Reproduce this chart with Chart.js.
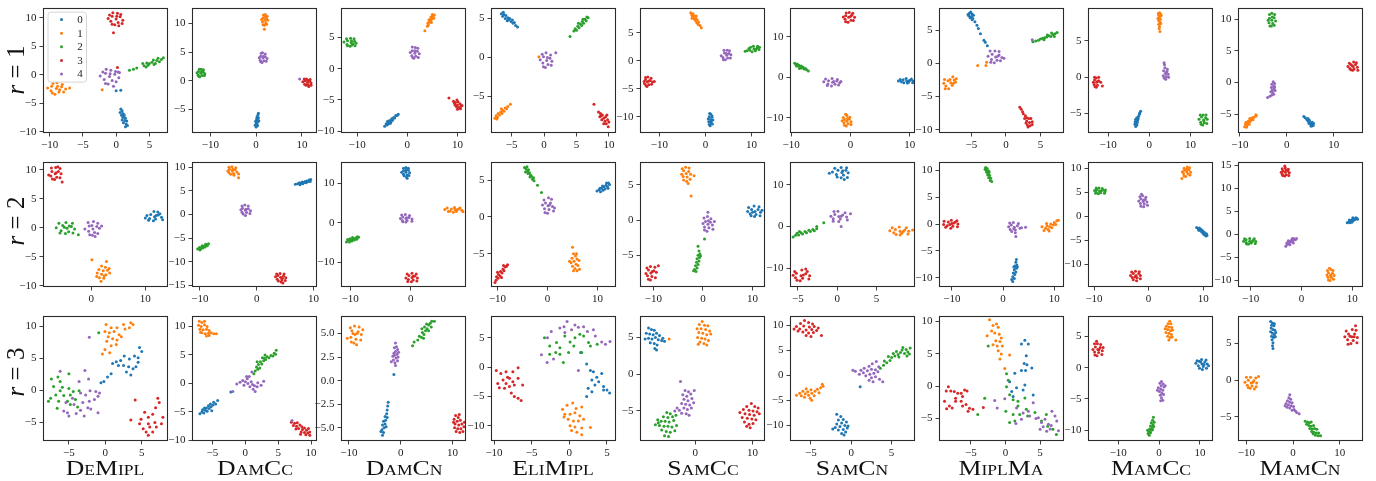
<!DOCTYPE html>
<html><head><meta charset="utf-8">
<script src="https://cdn.jsdelivr.net/npm/chart.js@4.4.1/dist/chart.umd.min.js"></script>
<style>
html,body{margin:0;padding:0;background:#fff;}
body{width:1376px;height:481px;position:relative;overflow:hidden;font-family:"Liberation Serif",serif;}
canvas{position:absolute;}
.title{position:absolute;width:220px;text-align:center;font-family:"Liberation Serif",serif;font-size:22px;line-height:22px;font-variant:small-caps;color:#111;transform:scaleX(1.17);white-space:nowrap;}
.rowlab{position:absolute;font-family:"Liberation Serif",serif;font-size:25px;line-height:25px;color:#111;white-space:nowrap;transform:translate(-50%,-50%) rotate(-90deg);}
</style></head><body>
<script>
const COLORS=['#1f77b4','#ff7f0e','#2ca02c','#d62728','#9467bd'];
const classLabels=['0','1','2','3','4'];
const methods=['DeMipl','DamCc','DamCn','EliMipl','SamCc','SamCn','MiplMa','MamCc','MamCn'];
const rowNames=['1','2','3'];

// ---- row r = 1 ----
const demipl_r1=[
[0.7,-6.0,0.9,-6.3,0.6,-6.6,1.0,-6.8,0.8,-7.1,1.2,-7.2,1.0,-7.5,1.4,-7.6,0.9,-7.9,1.3,-8.0,1.6,-8.1,1.1,-8.4,1.5,-8.6,1.7,-8.9,1.4,-9.1,1.2,-7.0,0.0,-2.8,0.7,-2.7],
[-9.0,-2.4,-8.2,-2.1,-9.7,-2.0,-8.6,-3.0,-9.8,-2.8,-7.6,-2.5,-10.3,-2.3,-8.9,-1.4,-9.2,-3.4,-8.1,-1.7,-9.6,-3.2,-7.9,-3.0,-9.5,-1.5,-8.8,-2.0,-7.0,-2.3,-8.5,-2.6,-2.1,-2.6],
[2.0,0.8,2.6,1.0,3.1,1.2,4.0,2.0,4.2,1.6,4.6,2.1,4.5,1.4,5.0,2.0,5.4,2.2,5.6,2.6,5.9,2.0,6.1,2.5,6.3,2.9,6.5,2.3,6.8,2.7,7.1,3.0,5.7,1.8,4.8,1.7],
[0.0,9.8,0.6,10.2,-0.6,10.3,0.3,9.2,-0.8,9.4,1.0,9.6,-1.2,9.9,0.2,10.8,-0.2,8.8,0.7,10.6,-0.6,8.9,0.9,9.0,-0.5,10.9,0.1,10.3,0.4,8.6,-1.0,10.5,-0.4,7.4,0.2,1.3],
[-1.0,-0.3,-0.2,0.1,-1.6,0.3,-0.6,-1.0,-1.8,-0.8,0.4,-0.5,-2.4,-0.2,-0.8,0.8,-1.2,-1.6,-0.1,0.6,-1.6,-1.5,0.0,-1.2,-1.5,1.0,-0.9,0.2,-2.0,0.5,0.5,0.4,-0.4,-2.0,0.3,0.5]];
const damcc_r1=[
[0.5,-5.7,0.4,-6.0,0.2,-6.3,0.5,-6.5,0.1,-6.7,0.3,-6.9,-0.1,-7.1,0.4,-7.2,0.0,-7.4,0.2,-7.6,-0.2,-7.8,0.3,-7.9,0.0,-8.1,0.6,-7.0],
[1.9,10.6,2.3,10.9,1.5,11.0,2.1,10.1,1.4,10.3,2.5,10.6,1.2,10.7,2.0,11.6,1.8,9.7,2.4,11.3,1.5,9.8,2.3,9.9,1.6,11.5,1.9,11.1,1.8,9.0],
[-12.1,1.3,-11.5,1.5,-12.6,1.6,-11.8,0.9,-12.7,1.0,-11.2,1.2,-12.9,1.4,-12.0,2.0,-12.3,0.7,-11.5,1.9,-12.5,0.8,-11.3,0.9,-12.4,2.0,-11.9,1.6],
[11.2,-0.3,11.7,-0.1,10.7,0.0,11.4,-0.7,10.6,-0.6,12.0,-0.4,10.2,-0.2,11.0,0.3,11.5,-1.0,11.8,0.2,10.9,-0.8,12.0,-0.8,10.5,0.3,11.3,0.1],
[1.5,4.0,2.0,4.2,1.0,4.3,1.7,3.5,0.9,3.6,2.4,3.9,0.7,4.0,1.4,4.9,1.3,3.2,2.0,4.7,1.0,3.3,2.2,3.4,1.1,4.8,1.6,4.3,9.5,0.3]];
const damcn_r1=[
[-4.5,-9.2,-4.2,-8.8,-4.0,-9.0,-3.8,-8.6,-3.6,-8.8,-3.5,-8.3,-3.2,-8.4,-3.1,-8.0,-2.9,-8.2,-2.7,-7.8,-2.5,-7.9,-2.3,-7.5,-2.0,-7.5,-1.8,-7.3,-3.9,-8.4,-3.3,-8.7],
[3.5,6.1,4.0,6.8,4.2,7.0,4.4,7.5,4.1,7.3,4.7,7.7,4.5,7.9,4.9,8.0,4.7,8.3,5.1,8.4,5.3,8.1,5.0,8.7,5.4,8.6,4.3,7.8,4.8,7.4],
[-11.2,4.2,-10.5,4.4,-11.9,4.5,-11.0,3.8,-12.0,3.9,-10.2,4.1,-12.6,4.3,-11.3,4.9,-11.4,3.6,-10.6,4.8,-11.9,3.7,-10.4,3.7,-12.1,4.8,-11.1,4.5,-10.8,4.0],
[8.3,-4.7,9.2,-5.2,9.6,-5.4,10.1,-5.3,9.5,-5.8,10.0,-5.8,10.5,-5.6,9.8,-6.1,10.3,-6.2,10.7,-6.0,10.0,-6.5,10.6,-6.4,9.4,-5.5,10.9,-5.9,9.9,-5.0],
[1.5,2.5,2.0,2.8,1.0,2.9,1.7,2.0,0.9,2.1,2.4,2.4,0.6,2.6,1.6,3.4,1.3,1.7,2.1,3.3,1.1,1.8,2.2,1.8,1.0,3.5,1.5,2.9]];
const elimipl_r1=[
[-6.6,5.6,-6.4,5.3,-6.2,5.5,-6.0,5.0,-5.9,5.4,-5.6,5.1,-5.5,4.8,-5.3,5.0,-5.1,4.6,-4.9,4.8,-4.8,4.4,-4.6,4.5,-4.4,4.1,-4.1,3.9,-5.7,4.7,-6.3,5.8],
[-7.6,-7.8,-7.4,-7.5,-7.2,-7.7,-7.1,-7.2,-6.9,-7.4,-6.7,-7.0,-6.5,-7.2,-6.4,-6.8,-6.2,-6.9,-6.0,-6.5,-5.8,-6.6,-5.6,-6.3,-5.2,-6.0,-7.3,-7.9,-6.6,-6.6,-0.8,0.1],
[4.0,2.7,4.6,3.4,4.8,3.7,5.0,3.5,5.2,4.0,5.4,3.8,5.6,4.3,5.8,4.1,5.9,4.6,6.1,4.4,6.3,4.9,6.5,4.7,6.6,5.2,6.8,5.1,5.3,4.4,6.0,4.9],
[7.7,-6.0,8.4,-7.0,8.7,-7.2,8.6,-7.6,9.0,-7.4,9.2,-7.8,8.9,-8.0,9.5,-7.6,9.4,-8.2,9.8,-8.0,9.6,-8.5,10.0,-8.3,9.2,-8.5,9.9,-8.9,8.8,-7.5,9.7,-7.4],
[0.4,-0.4,0.9,-0.1,-0.1,0.1,0.6,-0.9,-0.2,-0.7,1.2,-0.5,-0.6,-0.3,0.3,0.6,0.2,-1.3,1.0,0.3,-0.1,-1.2,1.1,-1.0,-0.3,0.4,0.5,0.0,1.8,0.6]];
const samcc_r1=[
[1.1,-10.5,1.4,-10.1,0.8,-10.0,1.2,-11.1,0.7,-10.9,1.6,-10.6,0.6,-10.4,1.1,-9.5,1.0,-11.6,1.4,-9.8,0.8,-11.4,1.5,-11.3,0.9,-9.4,1.2,-10.8],
[-3.2,8.6,-3.0,8.2,-2.7,8.4,-2.8,7.9,-2.4,8.0,-2.5,7.5,-2.1,7.6,-2.2,7.2,-1.8,7.3,-1.9,6.8,-1.5,6.9,-1.6,6.5,-1.2,6.3,-0.9,5.9,-2.9,7.6,-2.0,8.0],
[10.5,2.1,11.2,2.3,9.8,2.4,10.8,1.8,9.6,1.9,11.6,2.0,9.0,1.8,10.4,2.6,10.1,1.6,11.3,2.6,9.4,2.2,11.7,2.4,8.6,1.7,10.9,2.0],
[-12.6,-3.8,-12.0,-3.5,-13.0,-3.4,-12.3,-4.3,-13.2,-4.1,-11.5,-3.8,-13.3,-3.7,-12.5,-2.9,-12.7,-4.6,-11.8,-3.1,-12.9,-4.4,-11.7,-4.2,-13.0,-3.0,-12.3,-3.6,-11.1,-3.7],
[4.6,1.0,5.1,1.3,4.1,1.4,4.8,0.5,3.8,0.6,5.5,1.1,3.4,0.9,4.7,1.9,4.3,0.2,5.2,1.8,3.9,0.2,5.4,0.5,4.0,1.9,4.5,1.3]];
const samcn_r1=[
[9.5,-0.9,10.1,-0.7,8.9,-0.6,9.8,-1.2,8.6,-1.1,10.6,-0.9,8.1,-0.9,9.4,-0.3,9.6,-1.4,10.3,-0.4,9.0,-1.3,10.5,-1.3,8.4,-0.5,9.9,-0.8],
[-0.6,-10.8,-0.2,-10.3,-1.0,-10.4,-0.4,-11.4,-1.1,-11.2,0.1,-10.9,-1.4,-10.7,-0.6,-9.4,-0.7,-12.0,-0.1,-9.8,-1.0,-11.8,0.1,-11.6,-1.2,-9.9,-0.5,-10.1,-0.8,-9.1],
[-9.4,3.5,-9.2,3.1,-9.0,3.3,-8.9,2.8,-8.7,3.0,-8.5,2.6,-8.3,2.8,-8.2,2.3,-8.0,2.5,-7.8,2.1,-7.6,2.2,-7.4,1.9,-7.1,1.6,-8.6,2.2,-9.1,2.8],
[-0.3,14.8,0.2,15.3,-0.8,15.2,0.1,14.1,-0.9,14.3,0.7,14.8,-1.2,14.9,-0.2,16.0,-0.4,13.6,0.4,15.8,-0.8,13.7,0.5,14.0,-0.7,15.9,0.0,15.0],
[-3.0,-1.2,-2.3,-0.9,-3.7,-0.8,-2.6,-1.7,-3.8,-1.6,-1.8,-1.3,-4.5,-1.1,-3.1,-0.3,-3.2,-2.1,-2.2,-0.5,-3.9,-2.0,-2.0,-1.9,-4.2,-0.4,-2.8,-1.0,-1.6,-1.0]];
const miplma_r1=[
[-5.3,7.6,-5.1,7.8,-4.9,7.5,-5.4,7.2,-5.0,7.1,-4.7,7.3,-5.2,6.9,-4.8,6.8,-5.5,7.4,-4.9,6.6,-4.5,6.3,-4.2,5.8,-4.0,5.3,-3.7,4.5,-3.2,3.5,-3.0,3.2,-2.7,2.7],
[-8.0,-2.9,-7.5,-2.5,-8.4,-2.6,-7.8,-3.3,-8.7,-3.4,-7.2,-2.3,-9.0,-3.0,-7.7,-2.0,-8.3,-3.8,-7.3,-2.8,-8.8,-3.8,-7.6,-3.0,-8.9,-2.4,-8.1,-2.4,-4.1,-0.3,-2.8,0.2,-2.9,-0.3],
[3.9,3.3,4.3,3.4,4.7,3.5,5.0,3.7,5.3,3.8,5.6,3.9,5.9,4.0,6.2,4.2,6.5,4.1,6.8,4.4,7.1,4.5,7.4,4.7,6.6,4.6,6.0,4.3,7.0,4.1,5.5,3.6],
[2.0,-6.6,2.2,-6.9,2.4,-7.3,2.5,-7.6,2.8,-7.9,2.7,-8.3,3.0,-8.2,3.3,-8.3,3.6,-8.3,3.0,-8.7,3.4,-8.9,3.8,-8.8,3.1,-9.3,3.5,-9.4,3.8,-9.2,2.9,-9.0,3.2,-9.6],
[-1.5,1.0,-1.0,1.3,-2.0,1.4,-1.3,0.5,-2.1,0.6,-0.6,0.9,-2.6,1.1,-1.6,1.9,-1.7,0.1,-1.0,1.8,-2.2,0.2,-0.8,0.4,-2.3,1.9,-1.2,1.1,-0.3,0.8,3.8,3.6]];
const mamcc_r1=[
[-2.1,-4.7,-2.3,-4.9,-2.4,-5.1,-2.6,-5.4,-3.0,-5.6,-3.3,-5.8,-2.8,-5.9,-3.1,-6.0,-3.4,-6.1,-2.9,-6.2,-3.2,-6.4,-3.5,-6.5,-3.0,-6.6,-3.3,-6.8,-2.7,-5.7,-3.4,-6.3],
[2.2,8.8,2.5,8.9,2.8,8.7,2.3,8.5,2.6,8.4,2.9,8.5,2.4,8.2,2.7,8.0,2.3,7.8,2.6,7.6,2.3,7.3,2.5,7.0,2.4,6.7,2.6,6.3,2.8,7.4,2.1,8.1],
[13.2,-5.9,13.7,-5.6,12.7,-5.5,13.4,-6.3,12.5,-6.2,14.1,-5.8,12.1,-5.8,13.1,-5.2,13.0,-6.6,13.8,-5.2,12.6,-6.5,14.0,-6.4,12.4,-5.2,13.3,-6.0],
[-12.8,-0.7,-12.3,-0.5,-13.3,-0.4,-12.6,-1.1,-13.4,-1.0,-11.8,-0.7,-13.6,-0.7,-12.9,-0.1,-12.9,-1.4,-12.3,0.0,-13.2,-1.3,-11.4,-1.2,-13.3,0.0,-12.6,-0.6],
[3.9,0.5,4.3,0.8,3.5,0.9,4.1,0.1,3.4,0.2,4.6,0.4,3.8,1.3,3.6,2.0,4.0,-0.3,4.4,1.1,3.6,-0.1,4.7,0.0,3.7,1.7,4.1,0.6]];
const mamcn_r1=[
[3.6,-5.4,3.9,-5.6,4.2,-5.8,4.4,-6.0,4.6,-6.2,4.8,-6.0,5.0,-6.4,4.7,-6.5,5.2,-6.6,5.4,-6.3,5.6,-6.8,5.3,-6.9,5.7,-6.5,4.5,-5.7,5.1,-6.9],
[-9.0,-7.0,-8.8,-6.6,-8.5,-6.8,-8.7,-6.3,-8.3,-6.4,-8.0,-6.6,-8.2,-6.1,-7.8,-6.2,-7.6,-5.9,-7.9,-5.7,-7.4,-5.6,-7.0,-5.5,-6.5,-5.3,-6.6,-5.1,-8.6,-7.1,-7.2,-5.9],
[-3.2,9.8,-2.7,10.2,-3.7,10.1,-3.0,9.3,-3.8,9.4,-2.4,9.7,-4.0,9.8,-3.2,10.9,-3.3,8.9,-2.6,10.7,-3.6,8.9,-2.7,9.0,-3.7,10.7,-3.1,10.3],
[14.1,2.5,14.6,2.8,13.6,2.8,14.3,2.1,13.4,2.2,15.0,2.4,13.0,2.5,14.2,3.2,14.0,1.9,14.8,3.1,13.6,2.0,15.1,1.9,13.3,3.0,13.9,2.6],
[-2.9,0.1,-2.6,-0.2,-3.2,-0.3,-2.8,-0.6,-3.3,-0.8,-2.7,-1.0,-3.1,-1.2,-2.5,-1.3,-3.0,-1.6,-3.4,-1.5,-2.8,-1.9,-3.2,-2.0,-3.6,-2.2,-4.1,-2.4,-2.6,-0.7]];

// ---- row r = 2 ----
const demipl_r2=[
[11.7,1.9,12.4,2.2,11.0,2.3,11.9,1.5,10.8,1.6,13.0,1.8,10.0,1.7,11.6,2.8,11.5,1.2,12.3,2.7,10.6,1.3,13.2,1.4,10.3,2.1,12.0,2.1,12.7,2.4],
[0.1,-5.5,2.8,-5.8,1.9,-6.6,2.6,-6.8,1.4,-7.2,2.2,-7.4,3.0,-7.3,1.1,-7.8,1.9,-8.0,2.7,-8.1,3.4,-7.8,1.5,-8.6,2.3,-8.7,1.0,-8.4,1.8,-9.2,3.3,-7.0,2.4,-8.3],
[-4.5,-0.1,-3.7,0.2,-5.3,0.4,-4.2,-0.7,-5.6,-0.5,-3.1,-0.2,-6.5,0.0,-4.7,0.9,-4.8,-1.0,-3.5,0.8,-5.8,-0.9,-3.4,-0.9,-6.0,0.8,-4.1,0.3,-2.4,-1.2,-5.0,0.1],
[-6.7,9.3,-6.1,9.7,-7.3,9.7,-6.4,8.7,-7.5,8.9,-5.6,9.3,-7.9,9.1,-6.6,10.4,-6.8,8.3,-5.8,10.2,-7.2,8.4,-5.8,8.6,-7.4,10.3,-6.5,9.5,-5.4,7.9,-6.2,10.5],
[0.3,-0.2,1.0,0.2,-0.4,0.3,0.6,-0.8,-0.5,-0.6,1.5,-0.1,-1.2,-0.2,0.4,1.1,0.2,-1.3,1.2,0.8,-0.3,-1.2,1.2,-1.0,-0.6,0.9,0.1,0.4,1.9,0.3,0.7,-1.5]];
const damcc_r2=[
[6.8,6.4,7.2,6.5,7.5,6.7,7.8,6.6,8.0,6.9,8.3,6.8,8.5,7.0,8.8,7.1,9.0,7.0,9.2,7.3,9.5,7.4,8.1,6.5,8.7,6.7,7.6,6.3,9.4,7.0],
[-4.3,9.2,-3.8,9.5,-4.8,9.6,-4.1,8.7,-4.9,8.9,-3.5,9.0,-5.1,9.2,-4.4,10.1,-4.0,8.3,-3.7,9.9,-4.6,8.5,-3.2,8.6,-4.9,10.0,-4.2,9.6,-3.2,7.8],
[-10.4,-7.3,-10.1,-7.0,-9.9,-7.3,-9.7,-6.9,-9.5,-7.1,-9.3,-6.7,-9.1,-6.9,-8.9,-6.4,-8.7,-6.6,-8.5,-6.2,-10.0,-7.5,-9.6,-6.6,-9.0,-6.3,-9.8,-7.1],
[4.2,-13.3,4.7,-13.0,3.7,-12.9,4.4,-13.8,3.6,-13.7,5.1,-13.4,3.3,-13.2,4.1,-12.5,4.3,-14.3,4.8,-12.6,3.8,-14.1,5.0,-14.0,3.5,-12.6,4.5,-13.5,4.6,-14.5],
[-2.0,0.9,-1.5,1.2,-2.5,1.3,-1.8,0.4,-2.6,0.5,-1.1,0.8,-2.8,1.0,-2.1,2.0,-2.0,-0.2,-1.5,1.8,-2.4,0.1,-1.2,0.2,-2.6,1.8,-1.9,1.1]];
const damcn_r2=[
[-0.8,12.8,-0.4,13.3,-1.2,13.2,-0.6,12.1,-1.2,12.3,-0.2,12.7,-1.5,12.8,-0.8,14.0,-0.7,11.6,-0.4,13.8,-1.1,11.9,-0.3,12.0,-1.2,13.8,-0.8,13.4,-0.6,11.3],
[7.3,3.3,7.9,3.5,6.7,3.5,7.5,2.9,6.5,3.0,8.4,3.2,5.6,3.4,7.2,3.9,7.0,2.7,8.1,3.8,6.2,2.9,8.6,2.8,6.0,3.8,7.6,3.3],
[-10.6,-4.8,-10.3,-4.4,-10.1,-4.8,-9.9,-4.3,-9.7,-4.6,-9.5,-4.0,-9.3,-4.3,-9.1,-3.8,-8.9,-4.1,-8.6,-3.6,-10.4,-4.2,-9.6,-3.7,-8.8,-3.5,-10.0,-4.0],
[0.2,-13.8,0.7,-13.4,-0.3,-13.3,0.4,-14.4,-0.4,-14.3,1.1,-13.9,-0.8,-13.9,0.2,-12.7,0.1,-14.9,0.9,-12.9,-0.5,-14.8,1.0,-14.7,-0.6,-12.9,0.4,-13.5],
[-0.8,1.1,-0.3,1.4,-1.3,1.5,-0.6,0.6,-1.4,0.6,0.2,1.0,-1.7,1.1,-0.9,2.1,-0.8,0.2,-0.2,1.9,-1.3,0.3,0.2,0.4,-1.5,2.0,-0.7,1.3]];
const elimipl_r2=[
[9.9,3.5,10.3,3.7,10.6,3.4,10.8,3.9,11.1,3.6,11.3,4.1,11.5,3.8,11.7,4.3,12.0,4.1,12.2,4.6,12.4,4.4,11.0,4.2,11.8,4.6,10.5,3.9,12.1,3.9],
[5.0,-4.1,5.2,-5.0,5.6,-5.3,4.9,-5.6,5.9,-5.7,5.3,-6.0,6.3,-5.9,4.7,-6.2,5.7,-6.4,6.1,-6.6,5.0,-6.7,5.5,-7.0,6.4,-7.1,5.2,-7.3,5.9,-7.3,4.4,-6.0,5.8,-5.0],
[-4.6,6.7,-4.3,6.5,-4.1,6.8,-4.0,6.2,-3.8,6.4,-3.9,5.9,-3.6,6.0,-3.4,5.7,-3.5,5.4,-3.2,5.5,-3.0,5.1,-2.8,5.3,-2.7,4.9,-4.4,6.1,-2.0,4.3,-1.2,3.3],
[-10.3,-8.6,-10.2,-8.1,-9.9,-8.3,-9.8,-7.8,-9.5,-8.0,-9.4,-7.4,-9.1,-7.6,-8.9,-7.1,-8.7,-7.3,-8.5,-6.8,-8.2,-6.7,-8.0,-6.5,-10.0,-7.5,-9.2,-8.2,-8.8,-6.6,-10.5,-8.9],
[0.1,1.5,0.6,1.9,-0.4,1.9,0.3,1.0,-0.6,1.1,1.0,1.4,-1.0,1.6,0.2,2.6,0.0,0.5,0.8,2.4,-0.5,0.6,1.2,0.8,-0.7,2.3,0.4,1.6,1.4,1.2]];
const samcc_r2=[
[10.5,1.2,11.1,1.5,9.8,1.5,10.7,0.8,9.5,0.9,11.6,1.1,9.0,1.2,10.3,2.0,10.4,0.5,11.3,1.9,9.7,0.6,11.5,0.6,9.2,1.8,10.0,1.1,11.9,1.4],
[-3.4,6.6,-2.9,6.9,-3.9,7.0,-3.2,6.1,-4.0,6.2,-2.5,6.5,-4.3,6.5,-3.5,7.5,-3.3,5.5,-2.8,7.4,-3.9,5.7,-2.6,5.8,-4.2,7.3,-3.0,5.2,-1.8,6.3,-2.4,3.4],
[-1.0,-3.7,-0.8,-4.4,-0.6,-4.8,-1.0,-5.0,-0.7,-5.3,-1.2,-5.5,-0.8,-5.8,-1.3,-6.0,-1.0,-6.3,-1.5,-6.5,-1.2,-6.8,-1.7,-7.0,-1.4,-7.3,-1.9,-7.2,0.3,-2.7,-0.5,-5.1],
[-10.5,-7.5,-9.9,-7.2,-11.0,-7.1,-10.3,-8.0,-11.2,-7.9,-9.4,-7.4,-11.5,-7.6,-10.6,-6.6,-10.6,-8.5,-9.7,-6.7,-11.0,-8.4,-9.6,-8.2,-11.3,-6.8,-10.2,-7.3,-9.0,-6.5],
[1.0,-0.6,1.5,-0.3,0.5,-0.2,1.2,-1.1,0.3,-1.0,1.9,-0.7,0.0,-0.5,0.9,0.5,0.8,-1.6,1.6,0.2,0.3,-1.4,2.0,-1.3,0.2,0.3,1.1,-0.1,1.0,1.1,2.3,-0.2]];
const samcn_r2=[
[0.6,13.0,1.1,13.5,0.1,13.5,0.8,12.4,-0.1,12.5,1.4,12.9,-0.6,13.1,0.5,14.2,0.5,11.7,1.2,14.1,0.0,11.9,1.3,11.8,-0.3,14.0,0.7,13.4,-1.0,12.8,0.9,11.3],
[8.0,-1.1,8.6,-0.8,7.4,-0.7,8.2,-1.6,7.2,-1.5,9.1,-1.1,6.7,-1.0,7.9,-0.1,8.0,-2.0,8.8,-0.3,7.5,-1.9,9.0,-1.8,7.0,-0.3,8.4,-1.2,9.6,-0.8],
[-5.6,-2.5,-5.3,-2.1,-5.1,-1.6,-4.9,-2.0,-4.6,-1.5,-4.4,-1.8,-4.1,-1.2,-3.9,-1.5,-3.6,-0.9,-3.4,-1.2,-3.1,-0.7,-2.9,-1.0,-2.6,-0.5,-4.8,-1.2,-1.7,0.9,-2.6,0.0],
[-4.6,-11.8,-4.0,-11.3,-5.2,-11.2,-4.4,-12.4,-5.3,-12.3,-3.5,-11.8,-5.6,-11.7,-4.5,-10.4,-4.7,-13.0,-3.8,-10.8,-5.1,-12.9,-3.6,-12.6,-5.4,-10.8,-4.3,-11.6,-4.0,-10.2],
[0.2,2.4,0.7,2.8,-0.3,2.9,0.4,1.8,-0.5,1.9,1.2,2.3,-0.8,2.5,0.1,3.7,0.2,1.2,1.0,3.3,-0.5,1.3,1.3,1.6,-0.4,3.6,0.5,2.5,1.7,3.1,0.5,0.0]];
const miplma_r2=[
[2.6,-6.6,2.5,-7.1,2.7,-7.6,2.3,-7.8,2.6,-8.2,2.2,-8.5,2.5,-8.9,2.0,-9.1,2.3,-9.4,1.9,-9.8,2.2,-10.1,1.7,-10.3,1.9,-10.7,2.8,-8.0,2.1,-8.0],
[7.6,-0.5,8.0,-1.2,8.3,-0.8,8.6,-0.3,8.8,-1.0,9.1,-0.5,9.3,0.0,9.5,-0.7,9.8,-0.2,10.0,0.3,10.3,-0.1,10.5,0.6,10.8,0.7,9.0,-1.3,8.5,0.1],
[-3.4,10.5,-3.1,10.3,-3.3,10.0,-2.9,9.9,-3.2,9.6,-2.8,9.4,-3.0,9.1,-2.6,9.0,-2.8,8.6,-2.4,8.5,-2.5,8.1,-2.2,7.9,-3.5,10.2,-2.7,9.7],
[-10.0,0.1,-9.3,0.4,-10.7,0.4,-9.8,-0.4,-10.9,-0.3,-8.8,0.0,-11.6,-0.1,-10.1,0.7,-10.2,-0.8,-9.0,0.6,-11.2,-0.6,-8.9,-0.5,-11.5,0.5,-9.6,0.2,-10.4,-0.1],
[2.2,-0.6,2.8,-0.3,1.6,-0.2,2.4,-1.1,1.4,-1.0,3.3,-0.8,1.1,-0.5,2.0,0.3,2.4,-1.6,3.0,0.1,1.7,-1.4,3.6,-0.7,1.3,0.2,4.4,-0.6,2.5,-2.3,2.1,-0.9]];
const mamcc_r2=[
[8.8,-2.3,9.1,-2.6,9.3,-2.4,9.4,-2.9,9.6,-2.7,9.7,-3.2,9.9,-3.0,10.0,-3.5,10.2,-3.3,10.3,-3.8,10.6,-3.6,10.7,-4.0,9.2,-2.9,10.1,-3.7,10.5,-4.1],
[7.0,9.3,7.4,9.7,6.6,9.6,7.2,8.8,6.4,8.9,7.7,9.2,6.2,9.3,7.1,10.3,6.8,8.3,7.5,10.1,6.5,8.4,7.6,8.6,6.5,10.0,6.1,7.9,7.0,9.8],
[-9.0,5.3,-8.4,5.5,-9.5,5.6,-8.8,4.9,-9.6,5.0,-8.0,5.1,-9.9,5.4,-9.1,5.9,-9.2,4.7,-8.5,5.8,-9.7,4.8,-8.1,4.8,-9.6,5.9,-8.7,5.3,-7.9,5.5],
[-2.3,-12.3,-1.8,-11.9,-2.8,-11.9,-2.1,-12.8,-3.0,-12.7,-1.5,-12.3,-3.3,-12.3,-2.4,-11.4,-2.2,-13.4,-1.7,-11.5,-2.8,-13.2,-1.5,-13.0,-3.1,-11.6,-2.5,-12.6],
[-1.0,3.1,-0.6,3.5,-1.4,3.6,-0.8,2.6,-1.5,2.7,-0.3,3.0,-1.8,3.2,-1.1,4.3,-0.9,2.0,-0.5,4.0,-1.4,2.1,-0.2,2.3,-1.6,4.1,-0.9,3.4,-1.3,4.6]];
const mamcn_r2=[
[9.0,2.5,9.3,2.7,9.5,2.5,9.6,3.0,9.8,2.8,10.0,3.2,10.2,3.0,10.3,3.4,10.5,3.2,10.7,3.6,10.9,3.5,9.4,3.1,10.1,3.6,9.9,2.6,11.0,3.3],
[5.7,-8.9,6.1,-8.5,5.3,-8.4,5.9,-9.5,5.2,-9.4,6.4,-9.0,5.0,-8.9,5.8,-7.7,5.6,-10.1,6.2,-7.9,5.3,-10.0,6.3,-9.8,5.1,-7.9,5.8,-9.2,5.5,-7.4],
[-10.2,-1.5,-9.5,-1.3,-10.9,-1.2,-9.9,-1.9,-10.9,-1.8,-9.0,-1.6,-11.4,-1.5,-10.2,-0.9,-10.4,-2.1,-9.3,-1.0,-10.8,-2.1,-9.1,-2.0,-11.2,-1.0,-9.7,-1.6],
[-3.2,13.5,-2.7,13.8,-3.7,13.8,-3.0,13.0,-3.8,13.1,-2.4,13.4,-4.0,13.5,-3.2,14.5,-3.3,12.7,-2.6,14.2,-3.7,12.8,-2.5,12.8,-3.8,14.3,-3.1,14.0,-3.3,14.9],
[-3.1,-2.6,-2.8,-2.2,-2.9,-1.9,-2.5,-2.0,-2.4,-1.6,-2.1,-1.7,-2.0,-1.3,-1.7,-1.4,-1.5,-1.0,-1.2,-1.2,-1.0,-0.9,-2.3,-2.3,-1.6,-1.9,-1.8,-0.9,-2.6,-1.4]];

// ---- row r = 3 ----
const demipl_r3=[
[4.7,6.7,5.0,6.1,4.5,5.1,4.0,5.4,3.3,4.9,2.6,5.4,2.1,4.7,1.5,4.5,1.0,4.2,1.8,3.9,2.5,3.9,3.2,3.7,3.8,3.4,4.2,3.7,4.5,4.4,2.9,2.9,3.5,2.4,0.8,2.6,0.3,2.1,-0.2,1.4,-0.6,1.2],
[0.1,10.3,0.8,9.8,1.6,9.8,2.5,10.3,3.5,10.6,3.8,10.3,3.3,9.8,2.7,9.6,-0.05,9.2,0.55,9.0,1.2,9.2,1.9,8.7,0.4,8.4,1.0,8.1,1.6,7.9,2.2,8.4,0.2,7.7,0.8,7.0,-0.05,6.4,0.6,5.9,1.5,7.2,-0.4,5.7],
[-7.4,1.8,-6.5,2.1,-6.2,1.4,-5.0,2.6,-7.1,0.6,-5.9,0.5,-5.0,0.3,-4.4,-0.15,-3.6,-0.05,-6.8,-0.7,-5.7,-0.8,-4.8,-0.7,-7.5,-1.2,-6.4,-1.7,-5.2,-1.7,-4.1,-1.4,-6.6,-2.8,-7.8,-1.7,-3.8,-2.6,-4.8,-2.2,-6.2,-0.05,-0.9,9.0],
[4.1,-1.5,7.2,-1.2,7.4,-1.9,6.9,-2.7,5.4,-3.4,6.5,-3.7,7.9,-4.2,5.9,-4.2,4.9,-4.5,3.5,-4.6,4.7,-5.2,5.9,-5.2,6.8,-5.0,7.7,-5.2,6.1,-5.7,5.2,-6.0,7.0,-5.7,6.5,-6.5,5.6,-6.5,5.9,-7.0],
[-6.2,3.0,-3.6,1.4,-2.8,3.1,-2.3,1.8,-2.1,-0.05,-1.3,-0.15,-0.8,-0.4,-1.0,-0.9,-1.5,-1.4,-2.7,-0.7,-3.4,-0.4,-4.5,-1.2,-5.4,-1.9,-4.3,-2.2,-3.1,-1.9,-2.2,-1.7,-2.4,-2.7,-3.4,-3.1,-4.0,-3.6,-2.9,-4.0,-5.0,-4.0,-5.7,-3.2,-2.0,-2.9,-1.0,-3.5,-2.2,8.3,-5.2,-3.5]];
const damcc_r3=[
[-6.9,-5.3,-6.6,-5.0,-6.3,-5.2,-6.5,-4.6,-6.1,-4.7,-5.8,-4.9,-5.9,-4.3,-5.5,-4.4,-5.6,-3.9,-5.2,-4.1,-5.3,-3.6,-4.9,-3.8,-4.8,-3.3,-4.5,-3.6,-4.2,-3.0,-5.1,-4.8,-6.2,-4.3,-2.2,-1.5],
[-7.0,10.9,-6.6,10.7,-6.2,10.9,-7.1,10.2,-6.7,10.0,-6.2,10.3,-5.8,10.0,-6.9,9.5,-6.4,9.4,-5.9,9.5,-5.5,9.3,-6.6,8.9,-6.1,8.7,-5.6,8.8,-5.2,8.9,-4.8,8.7,-4.4,8.7,-5.9,8.3,-5.5,8.4,-6.8,9.0],
[1.3,1.7,1.5,2.2,1.9,2.5,1.7,2.9,2.2,2.7,2.0,3.3,2.5,3.4,2.3,3.8,2.8,4.0,2.6,4.5,3.1,4.2,3.3,4.7,3.0,5.0,3.6,4.5,3.9,4.9,4.2,4.8,4.4,5.3,4.7,5.8,4.6,5.1,2.9,4.4,1.8,3.8],
[7.0,-6.8,7.5,-7.0,7.9,-6.9,7.3,-7.4,7.8,-7.5,8.3,-7.3,8.6,-7.6,8.1,-7.9,8.7,-8.1,9.0,-7.8,9.3,-8.2,8.5,-8.5,9.0,-8.6,9.5,-8.7,9.8,-8.5,9.2,-9.0,9.8,-9.1,8.4,-8.9,9.6,-7.9,7.7,-8.0],
[-1.3,-0.1,-0.8,0.2,-0.4,0.5,0.0,0.3,0.3,0.8,0.6,1.2,-0.2,-0.3,0.4,0.0,0.9,0.3,0.7,-0.6,1.1,-0.2,1.4,-0.4,1.2,-1.0,1.5,-1.4,1.8,-0.6,2.4,-0.3,2.8,0.4,1.9,0.1,0.2,1.2,1.0,2.0,-1.9,-1.4,7.1,-6.5]];
const damcn_r3=[
[-2.4,-2.3,-2.5,-2.7,-2.6,-3.1,-2.7,-3.5,-2.6,-3.9,-3.0,-3.8,-2.9,-4.2,-3.3,-4.3,-3.0,-4.6,-3.5,-4.7,-3.2,-5.0,-3.6,-5.2,-3.3,-5.5,-3.5,-5.8,-2.8,-4.9,-3.8,-5.4,-1.3,0.65],
[-8.8,4.9,-8.2,5.2,-9.4,5.3,-8.6,4.4,-9.6,4.6,-7.6,4.9,-10.3,4.5,-8.9,5.8,-9.0,4.0,-8.0,5.7,-9.5,4.1,-7.7,4.3,-9.7,5.6,-8.4,5.0,-7.3,5.4,-8.5,3.8,-9.2,5.0],
[2.3,3.7,2.6,4.1,3.3,4.3,3.6,4.7,4.0,4.6,4.2,5.1,4.5,4.9,4.8,5.3,4.6,5.7,5.1,5.5,5.4,5.9,5.0,6.0,5.7,6.1,6.0,6.3,6.5,6.3,5.9,5.7,4.1,5.5,5.4,5.3,4.4,4.5],
[10.6,-3.7,11.1,-3.9,10.3,-4.1,10.9,-4.3,11.5,-4.2,10.5,-4.6,11.2,-4.7,11.8,-4.6,10.4,-5.0,11.0,-5.1,11.6,-5.1,12.2,-4.9,10.7,-5.4,11.4,-5.5,12.0,-5.4,10.2,-4.4,11.3,-3.6,12.3,-4.4],
[-1.0,4.0,-0.8,3.6,-1.2,3.5,-0.6,3.3,-1.0,3.1,-0.7,2.8,-1.3,2.9,-0.5,2.5,-0.9,2.4,-1.4,2.2,-1.1,1.9,-1.8,2.0,-0.6,2.1,-1.2,2.7,-0.4,3.0,-1.5,2.6,-1.0,1.6]];
const elimipl_r3=[
[2.3,0.55,2.8,-0.55,3.2,-0.8,3.65,-1.7,3.0,-2.2,3.9,-2.5,4.55,-3.3,5.0,-3.9,5.35,-4.4,2.5,-3.6,3.0,-4.2,2.3,-5.0,3.4,-3.05,4.55,-3.9,4.3,-1.1,1.5,2.5],
[-0.9,-7.2,-0.3,-6.5,0.45,-6.1,0.9,-7.05,1.65,-6.8,-0.6,-8.05,0.1,-8.05,0.75,-7.8,1.4,-8.3,-0.15,-8.9,0.55,-9.2,1.2,-9.2,1.9,-8.9,0.1,-10.0,0.75,-10.2,1.65,-10.4,1.0,-11.1,1.65,-11.55,2.8,-10.3,-0.7,-8.5,0.3,-10.8],
[-3.3,5.0,-2.6,3.6,-1.7,4.2,-1.25,3.3,-0.6,5.3,-0.1,2.5,-0.8,0.8,-1.8,2.5,-2.6,2.2,0.6,3.6,0.75,5.0,1.4,5.6,1.9,5.3,2.55,4.2,2.8,3.6,3.7,3.9,1.65,2.5,-1.25,2.2,0.1,4.3],
[-9.7,-0.55,-9.1,-1.1,-8.4,-0.8,-7.5,-0.8,-6.8,-0.1,-9.5,-2.8,-8.8,-2.2,-8.2,-1.7,-7.5,-2.5,-6.8,-1.9,-9.3,-3.5,-8.6,-3.6,-7.95,-3.3,-7.3,-3.05,-6.2,-3.05,-7.7,-4.4,-7.3,-5.0,-6.8,-5.3,-6.4,-5.7,-8.4,-2.8,-7.95,-1.9],
[-3.7,2.1,-2.9,5.0,-2.4,6.1,-2.1,1.4,-1.25,6.7,-0.6,5.9,-0.3,7.8,0.3,6.4,0.75,7.2,1.2,6.8,1.9,6.9,2.4,6.1,3.2,6.4,3.45,5.3,4.3,4.3,5.4,4.4,4.8,3.9,1.2,-0.55,-2.95,0.8,-0.7,6.9]];
const samcc_r3=[
[-8.2,6.3,-7.7,6.1,-7.2,6.0,-8.6,5.6,-8.0,5.5,-7.4,5.4,-6.8,5.6,-6.3,5.3,-8.8,4.8,-8.2,4.9,-7.6,4.8,-7.0,5.0,-6.5,4.7,-5.9,4.6,-5.4,4.5,-7.9,4.3,-7.2,4.2,-6.7,4.0,-7.1,3.5,-6.8,3.3,-5.7,4.9],
[1.2,7.2,0.7,6.8,1.6,6.7,2.2,6.6,0.3,6.2,1.0,6.2,1.8,6.1,2.5,5.9,0.6,5.7,1.3,5.6,2.0,5.4,2.7,5.5,0.4,5.0,1.1,4.9,1.7,4.8,2.3,4.6,0.8,4.4,1.5,4.2,2.0,4.0,0.5,4.1,-4.6,4.8],
[-5.0,-5.2,-4.4,-5.4,-5.6,-5.8,-4.8,-5.9,-4.0,-5.8,-3.4,-5.6,-6.6,-6.2,-6.0,-6.4,-5.3,-6.4,-4.6,-6.5,-3.8,-6.3,-7.0,-6.9,-6.3,-7.0,-5.5,-7.1,-4.8,-7.1,-4.1,-7.2,-3.3,-7.0,-5.9,-7.6,-5.1,-7.8,-4.4,-7.9,-3.6,-7.7,-5.4,-8.4,-4.7,-8.5,-6.5,-6.6],
[9.8,-4.0,9.0,-4.4,10.4,-4.4,11.0,-4.6,8.4,-4.8,9.4,-4.9,10.1,-5.0,10.8,-5.1,7.8,-5.2,8.7,-5.4,9.5,-5.5,10.3,-5.6,11.2,-5.4,8.2,-5.9,9.1,-6.0,9.9,-6.1,10.6,-6.2,8.6,-6.5,9.4,-6.8,10.1,-6.7,9.6,-7.3,9.0,-7.1],
[-2.6,-1.0,-1.8,-2.2,-1.2,-2.4,-2.2,-2.8,-1.5,-3.0,-0.8,-2.7,-2.0,-3.4,-1.3,-3.6,-0.6,-3.3,-2.4,-4.0,-1.7,-4.1,-1.0,-4.2,-0.3,-3.9,-2.0,-4.6,-1.4,-4.8,-0.7,-4.6,-2.8,-4.9,-3.2,-4.6,-2.4,-5.3,-1.6,-5.4,-3.6,-5.0,-1.1,-5.6,-0.2,-2.2]];
const samcn_r3=[
[-1.8,-7.8,-1.3,-8.3,-1.0,-8.9,-1.6,-9.0,-0.6,-9.4,-1.2,-9.6,-1.8,-9.8,-0.8,-10.1,-1.4,-10.3,-2.0,-10.5,-0.5,-10.6,-1.0,-10.9,-1.6,-11.0,-0.7,-11.4,-1.2,-11.7,-2.3,-10.8,-0.9,-12.0,-0.4,-10.2,1.1,-2.3],
[-6.8,-4.0,-6.4,-3.6,-6.0,-3.2,-6.2,-4.1,-5.7,-3.7,-5.4,-3.3,-5.0,-2.9,-5.8,-4.4,-5.3,-4.0,-4.9,-3.6,-4.5,-3.2,-4.2,-2.8,-5.1,-4.6,-4.6,-4.1,-4.0,-3.5,-3.8,-2.5,-3.5,-2.2,-4.9,-5.0,-3.6,-1.8,-5.6,-2.7],
[3.6,1.4,4.0,2.0,4.4,2.5,4.1,2.9,4.8,3.0,5.0,3.6,4.6,3.8,5.4,3.9,5.2,4.4,5.8,4.2,5.6,4.8,6.1,4.6,6.3,5.1,6.6,4.4,6.8,5.2,7.0,4.7,6.4,5.6,7.3,5.5,5.9,3.7,6.9,3.9,7.2,4.3],
[-5.8,11.0,-5.3,10.6,-6.3,10.4,-4.8,10.3,-6.8,9.8,-5.9,9.9,-5.2,9.7,-4.6,9.8,-4.1,9.5,-7.1,9.3,-6.4,9.3,-5.6,9.1,-4.9,9.2,-4.3,9.0,-6.0,8.7,-5.3,8.5,-4.7,8.6,-5.6,8.0,-5.0,7.8,-6.6,8.9,-3.7,8.0],
[0.2,1.0,0.5,0.8,1.2,1.0,1.6,1.4,2.2,1.8,2.6,2.3,3.1,2.8,1.0,0.2,1.5,0.5,2.0,0.9,2.5,1.2,3.0,1.1,3.4,1.7,1.8,-0.1,2.3,0.2,2.8,0.4,3.3,0.7,2.5,-0.5,3.0,-0.3,2.2,-1.0,2.7,-1.3,3.5,-0.8,3.9,-1.3]];
const miplma_r3=[
[2.8,7.1,3.3,6.5,2.3,6.5,3.0,4.7,2.7,3.5,3.1,3.3,2.3,2.4,2.9,2.4,3.8,2.8,1.35,2.0,0.6,0.65,0.9,-0.85,1.6,-0.25,2.55,-0.6,1.1,-1.6,2.8,0.15,4.0,-1.4],
[-2.3,10.25,-1.8,9.35,-1.3,9.6,-1.05,9.1,-2.65,7.8,-2.0,8.5,-1.55,8.2,-0.9,8.0,-0.6,7.45,-1.4,7.0,-0.8,6.9,-1.8,6.4,-1.2,6.2,-0.45,6.2,-1.05,5.45,-0.6,4.95,-0.8,4.2,-0.1,2.7,0.6,4.8],
[-2.5,6.2,0.15,1.9,0.4,0.9,0.15,-0.1,0.6,-1.35,1.1,-2.1,1.8,-2.35,2.8,-1.85,0.05,-3.9,1.1,-4.4,2.05,-4.4,3.0,-3.6,3.2,-4.65,4.25,-4.1,-4.0,-4.4,-3.0,-1.9,0.6,-5.65,1.35,-5.4,5.2,-5.4,5.9,-4.4,6.1,-6.2,6.85,-6.7,7.35,-7.5,1.8,-3.1],
[-8.8,-2.35,-8.55,-0.75,-8.25,-0.1,-7.9,-0.75,-7.4,-0.85,-6.9,-1.1,-6.4,-1.1,-5.9,-0.6,-5.55,-0.75,-6.2,-1.6,-7.2,-1.9,-8.1,-3.1,-7.2,-2.35,-6.4,-2.35,-6.2,-3.1,-5.7,-2.85,-5.2,-3.45,-4.7,-3.6,-5.4,-3.9,-3.2,-3.3,-7.7,-3.4,-8.5,-3.5],
[-1.55,-2.25,-1.2,-3.4,-0.1,-1.95,1.6,-3.4,2.55,-4.15,3.5,-4.65,4.4,-5.0,4.0,-2.6,4.75,-4.9,5.2,-5.65,5.45,-6.3,5.7,-5.15,6.2,-5.9,6.45,-6.65,6.7,-3.9,7.15,-4.65,7.4,-5.4,7.65,-6.9,5.95,-7.0,1.5,-5.8,2.3,-5.15,3.3,-3.9,5.0,-6.7,6.6,-6.1]];
const mamcc_r3=[
[10.5,0.6,11.2,0.9,9.8,1.0,10.8,0.2,9.6,0.3,11.8,0.6,9.0,0.7,10.4,1.3,10.6,-0.3,11.5,1.2,9.9,-0.1,12.1,0.3,9.3,1.1,11.0,0.5,10.2,0.9,11.6,-0.1],
[2.6,7.4,2.2,7.0,2.9,7.0,1.8,6.6,2.5,6.5,3.1,6.4,2.1,6.1,2.8,5.9,3.3,6.0,1.7,5.6,2.4,5.5,3.0,5.3,2.1,5.0,2.7,4.8,3.2,4.9,2.4,4.4,4.1,4.4,1.5,6.2],
[-1.4,-7.9,-1.6,-8.4,-1.2,-8.7,-1.9,-8.8,-1.5,-9.1,-2.1,-9.3,-1.7,-9.6,-1.3,-9.4,-2.3,-9.8,-1.9,-10.0,-2.5,-10.2,-2.1,-10.4,-2.7,-10.5,-2.4,-10.8,-1.6,-9.9,-2.8,-10.0],
[-15.0,2.9,-14.4,3.2,-15.6,3.3,-14.8,2.4,-15.8,2.5,-13.9,2.7,-16.2,2.9,-15.1,3.8,-15.2,1.9,-14.3,3.7,-15.7,2.0,-14.0,2.1,-15.8,3.8,-14.7,2.9,-15.3,4.2,-13.7,3.2],
[0.6,-2.2,0.2,-2.5,1.0,-2.6,0.5,-2.9,1.2,-3.1,-0.2,-3.2,0.4,-3.4,0.9,-3.6,0.1,-3.8,0.7,-4.1,1.1,-4.3,0.3,-4.4,0.6,-4.8,0.9,-5.2,0.4,-5.3,-0.4,-3.6,1.5,-2.9]];
const mamcn_r3=[
[-4.8,8.0,-4.4,7.8,-4.6,7.5,-4.1,7.4,-4.7,7.1,-4.3,6.9,-3.9,6.8,-4.8,6.6,-4.4,6.4,-4.0,6.2,-4.6,6.0,-4.2,5.8,-3.8,5.9,-4.5,5.5,-4.3,5.1,-4.4,4.7,-4.3,4.3,-4.0,7.7,-3.7,6.5],
[-9.0,-0.4,-8.4,-0.1,-9.6,0.0,-8.8,-0.8,-9.8,-0.7,-7.8,-0.4,-10.3,-0.3,-9.1,0.4,-9.2,-1.1,-8.0,0.3,-9.6,-1.0,-7.9,-0.9,-10.0,0.4,-8.6,-0.3,-7.4,0.5,-8.3,-1.2],
[2.6,-5.6,3.1,-5.7,3.5,-5.8,3.9,-5.7,2.9,-6.0,3.4,-6.2,3.9,-6.3,4.4,-6.2,3.6,-6.6,4.1,-6.7,4.6,-6.6,5.1,-6.7,4.0,-7.0,4.5,-7.1,5.0,-7.2,5.5,-7.2,4.8,-7.5,5.4,-7.6,5.9,-7.6,4.3,-7.3],
[12.6,5.9,13.2,6.3,11.9,6.3,12.9,5.4,11.7,5.5,13.8,5.8,11.1,5.9,12.7,6.9,12.4,5.0,13.5,6.8,11.8,4.9,13.7,5.1,11.4,6.7,13.1,5.9,13.4,7.4,12.2,6.0],
[-0.7,-2.0,-0.9,-2.4,-0.5,-2.6,-1.2,-2.8,-0.7,-3.0,-0.2,-3.1,-1.5,-3.2,-1.0,-3.4,-0.4,-3.5,0.1,-3.6,-1.3,-3.7,-0.7,-3.8,0.2,-4.0,-0.2,-4.1,0.5,-4.2,0.8,-4.4,1.3,-4.6,-1.7,-3.5]];

const panels=[demipl_r1,damcc_r1,damcn_r1,elimipl_r1,samcc_r1,samcn_r1,miplma_r1,mamcc_r1,mamcn_r1,
 demipl_r2,damcc_r2,damcn_r2,elimipl_r2,samcc_r2,samcn_r2,miplma_r2,mamcc_r2,mamcn_r2,
 demipl_r3,damcc_r3,damcn_r3,elimipl_r3,samcc_r3,samcn_r3,miplma_r3,mamcc_r3,mamcn_r3];

const xLimits=[[-11.0,7.8],[-14,13.3],[-13.2,11.7],[-8.2,11.1],[-14.2,12.9],[-10.2,10.9],[-9.7,8.4],[-14.9,15.5],[-10.4,16.2],
 [-8.95,14.2],[-11.4,10.6],[-11.5,9.1],[-11.3,13.7],[-12.7,12.5],[-6.0,9.9],[-12.5,11.9],[-11.1,11.8],[-12.5,12.1],
 [-8.55,8.6],[-8.1,10.9],[-11.5,12.6],[-10.4,6.2],[-9.7,12.2],[-7.6,7.9],[-9.6,8.45],[-17.4,13.2],[-11.8,15.0]];
const yLimits=[[-10.2,11.8],[-9.15,12.8],[-10.3,9.8],[-9.7,6.4],[-12.9,9.5],[-13.7,17.2],[-10.5,8.45],[-7.7,9.6],[-8.0,11.8],
 [-10.2,11.4],[-15.35,11.2],[-16.2,15.5],[-9.5,7.5],[-9.5,8.3],[-14.5,15.6],[-11.7,11.6],[-14.7,11.4],[-11.5,15.85],
 [-7.9,11.7],[-10.1,11.9],[-6.4,6.9],[-12.6,8.8],[-9.1,8.0],[-13.2,12.0],[-8.5,10.9],[-11.7,8.3],[-8.3,8.8]];
const xTickVals=[[-10,-5,0,5],[-10,0,10],[-10,0,10],[-5,0,5,10],[-10,0,10],[-10,0,10],[-5,0,5],[-10,0,10],[-10,0,10],
 [0,10],[-10,0,10],[-10,0],[-10,0,10],[-10,0,10],[-5,0,5],[-10,0,10],[-10,0,10],[-10,0,10],
 [-5,0,5],[-5,0,5,10],[-10,0,10],[-10,-5,0,5],[0,10],[-5,0,5],[-5,0,5],[-10,0,10],[-10,0,10]];
const yTickVals=[[-10,-5,0,5,10],[-5,0,5,10],[-10,-5,0,5],[-5,0,5],[-10,-5,0,5],[-10,0,10],[-10,-5,0,5],[-5,0,5],[-5,0,5,10],
 [-10,-5,0,5,10],[-15,-10,-5,0,5,10],[-10,0,10],[-5,0,5],[-5,0,5],[-10,0,10],[-10,-5,0,5,10],[-10,-5,0,5,10],[-10,-5,0,5,10,15],
 [-5,0,5,10],[-10,-5,0,5,10],[-5,-2.5,0,2.5,5],[-10,-5,0,5],[-5,0,5],[-10,-5,0,5,10],[-5,0,5,10],[-10,-5,0,5],[-5,0,5]];
const yTickDecimals=[0,0,0,0,0,0,0,0,0, 0,0,0,0,0,0,0,0,0, 0,0,1,0,0,0,0,0,0];

// ---- layout ----
const COL_LEFT=42.7, COL_STEP=149.375, ROW_TOP=[4,158.3,312.3], PW=125, PH=129;
const AX_L=40, AX_B=22, PAD_T=6, PAD_R=6;
const CW=PW+AX_L+PAD_R, CH=PH+PAD_T+AX_B;
const TICK_FONT={family:'"Liberation Serif", serif', size:11};

const toPts=a=>{const o=[];for(let k=0;k<a.length;k+=2)o.push({x:a[k],y:a[k+1]});return o;};
const fmt=(v,dec)=>(dec?Number(v).toFixed(1):String(v)).replace('-','\u2212');

const framePlugin={id:'frame',afterDatasetsDraw(chart){
  const a=chart.chartArea,ctx=chart.ctx;ctx.save();ctx.strokeStyle='#2b2b2b';ctx.lineWidth=1.1;
  ctx.strokeRect(Math.round(a.left)+0.5,Math.round(a.top)+0.5,Math.round(a.right-a.left)-1,Math.round(a.bottom-a.top)-1);ctx.restore();}};
const legendPlugin={id:'inlegend',afterDraw(chart){
  const a=chart.chartArea,ctx=chart.ctx;const x0=a.left+5,y0=a.top+4.5,w=38.5,h=70,r=3;
  ctx.save();ctx.fillStyle='rgba(255,255,255,0.85)';ctx.strokeStyle='#d4d4d4';ctx.lineWidth=1;
  ctx.beginPath();ctx.moveTo(x0+r,y0);ctx.lineTo(x0+w-r,y0);ctx.quadraticCurveTo(x0+w,y0,x0+w,y0+r);ctx.lineTo(x0+w,y0+h-r);
  ctx.quadraticCurveTo(x0+w,y0+h,x0+w-r,y0+h);ctx.lineTo(x0+r,y0+h);ctx.quadraticCurveTo(x0,y0+h,x0,y0+h-r);ctx.lineTo(x0,y0+r);
  ctx.quadraticCurveTo(x0,y0,x0+r,y0);ctx.closePath();ctx.fill();ctx.stroke();
  ctx.font='11px "Liberation Serif", serif';ctx.textAlign='center';ctx.textBaseline='middle';
  chart.data.datasets.forEach((d,k)=>{const yy=y0+7.5+k*13.6;ctx.fillStyle=d.backgroundColor;ctx.beginPath();ctx.arc(x0+13.5,yy,1.5,0,2*Math.PI);ctx.fill();
    ctx.fillStyle='#222';ctx.fillText(d.label,x0+32,yy+0.5);});
  ctx.restore();}};

panels.forEach((p,i)=>{
  const r=Math.floor(i/9),c=i%9;
  const L=Math.round(COL_LEFT+c*COL_STEP)-AX_L,T=Math.round(ROW_TOP[r])-PAD_T;
  const cv=document.createElement('canvas');
  cv.width=CW;cv.height=CH;cv.style.left=L+'px';cv.style.top=T+'px';cv.style.width=CW+'px';cv.style.height=CH+'px';
  document.body.appendChild(cv);
  const xt=xTickVals[i],yt=yTickVals[i],dec=yTickDecimals[i];
  const axisCommon={type:'linear',border:{display:false},
    grid:{drawOnChartArea:false,drawTicks:true,tickLength:3.5,color:'#2b2b2b',lineWidth:0.9}};
  new Chart(cv,{type:'scatter',
    data:{datasets:p.map((arr,k)=>({label:classLabels[k],data:toPts(arr),backgroundColor:COLORS[k],borderColor:COLORS[k],
      pointRadius:1.5,pointBorderWidth:0,pointHoverRadius:1.5,order:4-k}))},
    options:{responsive:false,animation:false,devicePixelRatio:1,events:[],
      layout:{padding:{top:PAD_T,right:PAD_R,left:0,bottom:0}},
      plugins:{legend:{display:false},tooltip:{enabled:false}},
      scales:{
        x:Object.assign({},axisCommon,{position:'bottom',min:xLimits[i][0],max:xLimits[i][1],
          afterBuildTicks:s=>{s.ticks=xt.map(v=>({value:v}));},afterFit:s=>{s.height=AX_B;},
          ticks:{font:TICK_FONT,color:'#222',padding:2,maxRotation:0,autoSkip:false,callback:v=>fmt(v,0)}}),
        y:Object.assign({},axisCommon,{position:'left',min:yLimits[i][0],max:yLimits[i][1],
          afterBuildTicks:s=>{s.ticks=yt.map(v=>({value:v}));},afterFit:s=>{s.width=AX_L;},
          ticks:{font:TICK_FONT,color:'#222',padding:3,autoSkip:false,callback:v=>fmt(v,dec)}})
      }},
    plugins:i===0?[framePlugin,legendPlugin]:[framePlugin]});
});

// column titles
methods.forEach((m,c)=>{
  const d=document.createElement('div');d.className='title';d.textContent=m;
  const cx=COL_LEFT+c*COL_STEP+PW/2;d.style.left=(cx-110)+'px';d.style.top='457px';document.body.appendChild(d);
});
// row labels
const ROW_LABEL_Y=[70,221,372];
rowNames.forEach((n,r)=>{
  const d=document.createElement('div');d.className='rowlab';d.innerHTML='<i>r</i> = '+n;
  d.style.left='15px';d.style.top=ROW_LABEL_Y[r]+'px';document.body.appendChild(d);
});
</script>
</body></html>
